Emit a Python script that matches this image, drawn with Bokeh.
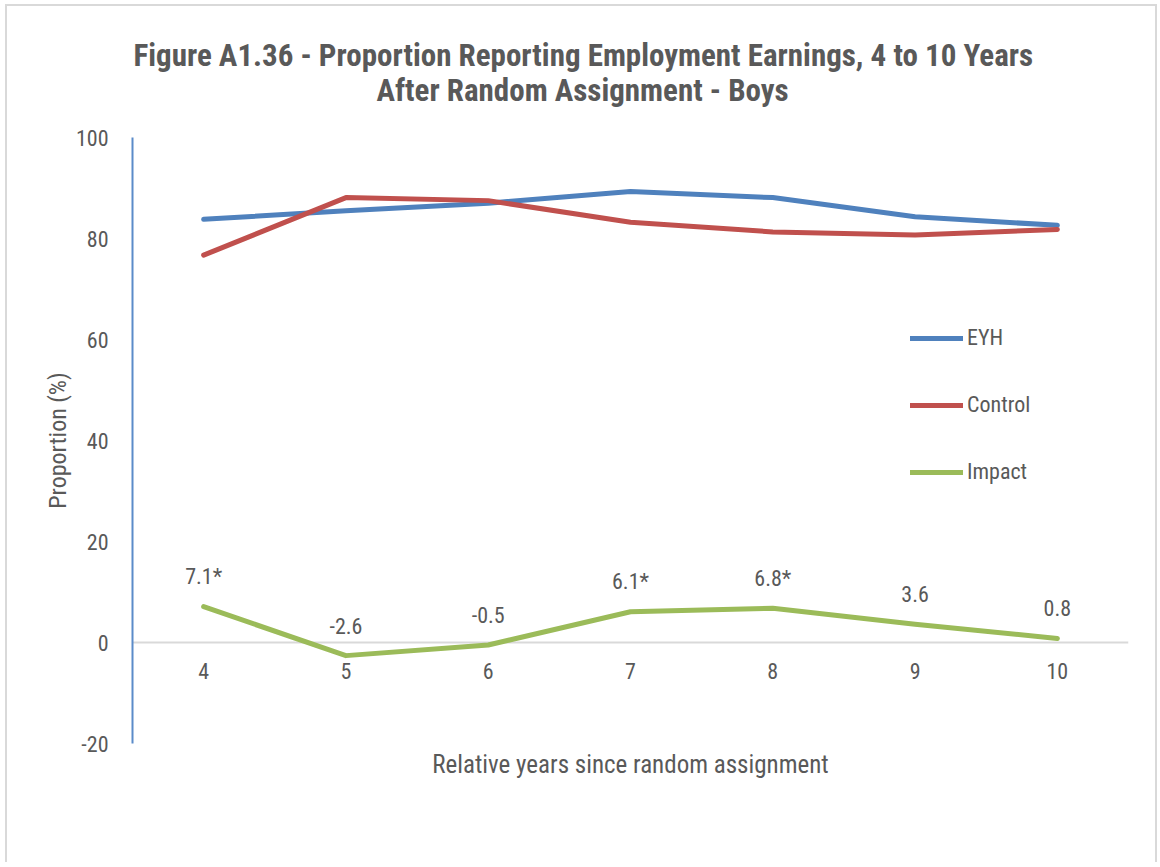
from bokeh.plotting import figure
from bokeh.models import Range1d, FixedTicker, Legend, LegendItem, ColumnDataSource, Title
from bokeh.core.properties import value
from bokeh.embed import file_html
from bokeh.resources import INLINE

years = [4, 5, 6, 7, 8, 9, 10]
year_labels = ["4", "5", "6", "7", "8", "9", "10"]
eyh = [83.8, 85.5, 87.0, 89.3, 88.1, 84.3, 82.6]
control = [76.7, 88.1, 87.5, 83.2, 81.3, 80.7, 81.8]
impact = [7.1, -2.6, -0.5, 6.1, 6.8, 3.6, 0.8]
impact_labels = ["7.1*", "-2.6", "-0.5", "6.1*", "6.8*", "3.6", "0.8"]
y_ticks = [-20, 0, 20, 40, 60, 80, 100]
y_tick_labels = ["-20", "0", "20", "40", "60", "80", "100"]
title_lines = ["Figure A1.36 - Proportion Reporting Employment Earnings, 4 to 10 Years",
               "After Random Assignment - Boys"]

FONT = "Roboto Condensed, DejaVu Sans Condensed, Liberation Sans, sans-serif"
GRAY = "#595959"

p = figure(width=1152, height=858, output_backend="svg", toolbar_location=None,
           x_range=Range1d(3.5, 10.5), y_range=Range1d(-20, 100),
           min_border_left=125, min_border_right=31, min_border_top=127, min_border_bottom=121)
p.styles = {"border-left": "2px solid #d9d9d9", "border-top": "2px solid #d9d9d9",
            "border-right": "2px solid #d9d9d9", "box-sizing": "border-box",
            "margin-left": "5px", "margin-top": "4px"}
p.outline_line_color = None
p.background_fill_color = "white"
p.border_fill_color = "white"

# title: one two-line block; the second line is indented so that it sits centred
# under the first (multi-line titles are left-aligned line by line)
indent = "\u00a0" * 34
p.add_layout(Title(text=title_lines[0] + "\n" + indent + title_lines[1],
                   align="left", offset=1, standoff=57,
                   text_font=FONT, text_font_size="31px", text_font_style="bold",
                   text_color=GRAY, text_line_height=0.95), "above")

# y axis
p.yaxis.ticker = FixedTicker(ticks=y_ticks)
p.yaxis.major_label_overrides = {t: l for t, l in zip(y_ticks, y_tick_labels)}
p.yaxis.axis_line_color = "#5b8bc9"
p.yaxis.axis_line_width = 2
p.yaxis.major_tick_line_color = None
p.yaxis.minor_tick_line_color = None
p.yaxis.major_label_text_font = FONT
p.yaxis.major_label_text_font_size = "22px"
p.yaxis.major_label_text_color = GRAY
p.yaxis.major_label_standoff = 18
p.yaxis.axis_label = "Proportion (%)"
p.yaxis.axis_label_text_font = FONT
p.yaxis.axis_label_text_font_size = "24px"
p.yaxis.axis_label_text_font_style = "normal"
p.yaxis.axis_label_text_color = GRAY
p.yaxis.axis_label_standoff = 1

# x axis: only its title
p.xaxis.ticker = FixedTicker(ticks=[])
p.xaxis.axis_line_color = None
p.xaxis.major_tick_line_color = None
p.xaxis.minor_tick_line_color = None
p.xaxis.axis_label = "Relative years since random assignment"
p.xaxis.axis_label_text_font = FONT
p.xaxis.axis_label_text_font_size = "25px"
p.xaxis.axis_label_text_font_style = "normal"
p.xaxis.axis_label_text_color = GRAY
p.xaxis.axis_label_standoff = 6

p.xgrid.visible = False
p.ygrid.ticker = FixedTicker(ticks=[0])
p.ygrid.grid_line_color = "#d9d9d9"
p.ygrid.grid_line_width = 2

src = ColumnDataSource(dict(x=years, xl=year_labels, eyh=eyh, control=control,
                            impact=impact, il=impact_labels, zero=[0] * len(years)))

r1 = p.line("x", "eyh", source=src, line_color="#4f81bd", line_width=5, line_cap="round", line_join="round")
r2 = p.line("x", "control", source=src, line_color="#c0504d", line_width=5, line_cap="round", line_join="round")
r3 = p.line("x", "impact", source=src, line_color="#9bbb59", line_width=5, line_cap="round", line_join="round")

# category labels along the zero line
p.text("x", "zero", text="xl", source=src, text_align="center", text_baseline="middle",
       y_offset=28, text_font=value(FONT), text_font_size="22px", text_color=GRAY)
# data labels
p.text("x", "impact", text="il", source=src, text_align="center", text_baseline="middle",
       y_offset=-30, text_font=value(FONT), text_font_size="22px", text_color=GRAY)

legend = Legend(items=[LegendItem(label="EYH", renderers=[r1]),
                       LegendItem(label="Control", renderers=[r2]),
                       LegendItem(label="Impact", renderers=[r3])],
                location=(778, 259), orientation="vertical",
                glyph_width=53, glyph_height=22, label_height=22, label_standoff=4,
                spacing=42, padding=0, margin=0,
                label_text_font=FONT, label_text_font_size="22px", label_text_color=GRAY,
                border_line_color=None, background_fill_alpha=0)
p.add_layout(legend)

open("out.html", "w").write(file_html(p, INLINE))
